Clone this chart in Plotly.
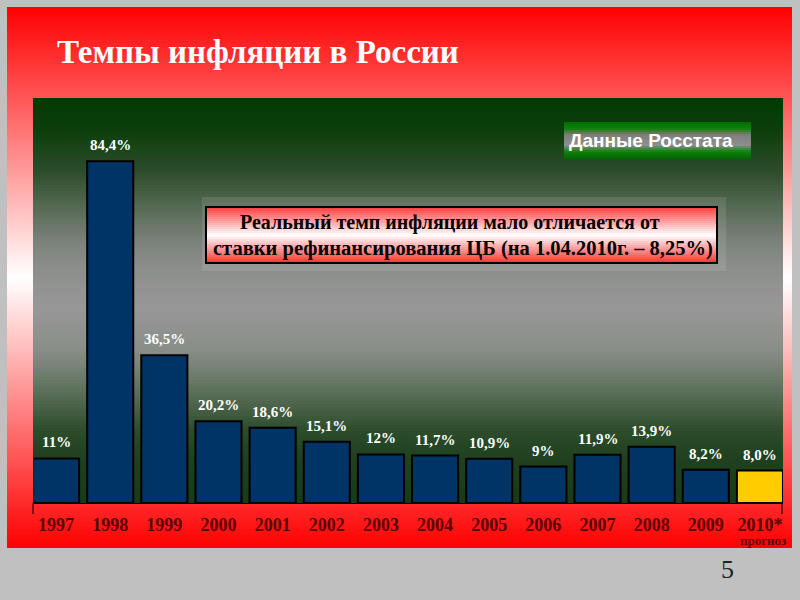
import plotly.graph_objects as go

# ---------------- data ----------------
years = ["1997", "1998", "1999", "2000", "2001", "2002", "2003",
         "2004", "2005", "2006", "2007", "2008", "2009", "2010"]
tick_labels = ["1997", "1998", "1999", "2000", "2001", "2002", "2003",
               "2004", "2005", "2006", "2007", "2008", "2009", "2010*"]
inflation = [11, 84.4, 36.5, 20.2, 18.6, 15.1, 12, 11.7, 10.9, 9, 11.9, 13.9, 8.2, 8.0]
value_labels = ["11%", "84,4%", "36,5%", "20,2%", "18,6%", "15,1%", "12%",
                "11,7%", "10,9%", "9%", "11,9%", "13,9%", "8,2%", "8,0%"]
is_forecast = [False] * 13 + [True]

title_text = "Темпы инфляции в России"
source_text = "Данные Росстата"
note_line1 = "Реальный темп инфляции мало отличается от"
note_line2 = "ставки рефинансирования ЦБ (на 1.04.2010г. – 8,25%)"
forecast_text = "прогноз"
page_number = "5"

# ---------------- helpers ----------------
W, H = 800, 600


def px(x):
    return x / W


def py(y):
    return 1 - y / H


def hex2rgb(h):
    h = h.lstrip("#")
    return tuple(int(h[i:i + 2], 16) for i in (0, 2, 4))


def interp(stops, t):
    for (t0, c0), (t1, c1) in zip(stops[:-1], stops[1:]):
        if t0 <= t <= t1:
            f = 0 if t1 == t0 else (t - t0) / (t1 - t0)
            a, b = hex2rgb(c0), hex2rgb(c1)
            r = [round(a[i] + (b[i] - a[i]) * f) for i in range(3)]
            return "rgb(%d,%d,%d)" % tuple(r)
    return "rgb(%d,%d,%d)" % hex2rgb(stops[-1][1])


def gradient(x0, x1, y0, y1, stops, step=2):
    out = []
    y = y0
    while y < y1:
        yb = min(y + step, y1)
        t = ((y + yb) / 2 - y0) / (y1 - y0)
        out.append(dict(type="rect", xref="paper", yref="paper",
                        x0=px(x0), x1=px(x1), y0=py(min(yb + 0.6, y1)), y1=py(y),
                        fillcolor=interp(stops, t), line=dict(width=0), layer="below"))
        y = yb
    return out


shapes = []
# red slide panel
shapes += gradient(7, 792, 7, 548, [(0, "#ff0000"), (0.5, "#ffffff"), (1, "#ff0000")], 3)
# plot background gradient (dark green -> grey -> dark green)
shapes += gradient(33, 783, 98, 503, [
    (0.00, "#033a03"), (0.08, "#0c3e0c"), (0.18, "#2c4c2a"), (0.27, "#566a54"),
    (0.35, "#7a817a"), (0.42, "#8c8e8c"), (0.52, "#979797"), (0.62, "#8a8e89"),
    (0.69, "#6c7b6a"), (0.77, "#465f44"), (0.82, "#2c4c2c"), (0.89, "#1f411f"),
    (1.00, "#173a17")], 3)
# shadow behind note box
shapes.append(dict(type="rect", xref="paper", yref="paper",
                   x0=px(202), x1=px(726), y0=py(271), y1=py(197),
                   fillcolor="rgba(255,255,255,0.10)", line=dict(width=0), layer="below"))
# note box gradient
shapes += gradient(206, 717, 207, 263, [(0, "#ff3c3c"), (0.5, "#ffffff"), (1, "#ff3030")], 2)
shapes.append(dict(type="rect", xref="paper", yref="paper",
                   x0=px(206), x1=px(717), y0=py(263), y1=py(207),
                   fillcolor="rgba(0,0,0,0)", line=dict(color="black", width=2), layer="below"))
# source box gradient
shapes += gradient(564, 751, 122, 159, [
    (0.00, "#006e00"), (0.18, "#0a820a"), (0.36, "#7f7f7f"), (0.62, "#8e8e8e"),
    (0.80, "#0c820c"), (1.00, "#006600")], 2)
# end ticks of x axis
for xx in (33, 782):
    shapes.append(dict(type="line", xref="paper", yref="paper",
                       x0=px(xx), x1=px(xx), y0=py(503), y1=py(514),
                       line=dict(color="black", width=1)))

bar_colors = ["#ffcc00" if f else "#003366" for f in is_forecast]
idx = list(range(len(years)))

fig = go.Figure()
fig.add_trace(go.Bar(
    x=years, y=inflation,
    marker=dict(color=bar_colors, line=dict(color="black", width=2)),
    hoverinfo="skip",
))

annotations = []
for i, v, lab in zip(idx, inflation, value_labels):
    annotations.append(dict(x=i, y=v, xref="x", yref="y", text="<b>%s</b>" % lab, showarrow=False,
                            yshift=16, yanchor="middle",
                            font=dict(family="Liberation Serif", size=15, color="white")))

annotations += [
    dict(x=px(55), y=py(52), xref="paper", yref="paper", text="<b>%s</b>" % title_text,
         showarrow=False, xanchor="left", yanchor="middle",
         font=dict(family="Liberation Serif", size=33, color="white")),
    dict(x=px(567), y=py(140), xref="paper", yref="paper", text="<b>%s</b>" % source_text,
         showarrow=False, xanchor="left", yanchor="middle",
         font=dict(family="Liberation Sans", size=19, color="white")),
    dict(x=px(450), y=py(222), xref="paper", yref="paper", text="<b>%s</b>" % note_line1,
         showarrow=False, xanchor="center", yanchor="middle",
         font=dict(family="Liberation Serif", size=20, color="black")),
    dict(x=px(463), y=py(248), xref="paper", yref="paper", text="<b>%s</b>" % note_line2,
         showarrow=False, xanchor="center", yanchor="middle",
         font=dict(family="Liberation Serif", size=20.5, color="black")),
    dict(x=idx[-1], y=py(540), xref="x", yref="paper", text="<b>%s</b>" % forecast_text,
         showarrow=False, xanchor="center", yanchor="middle", xshift=3,
         font=dict(family="Liberation Serif", size=13, color="#5a0000")),
    dict(x=px(727), y=py(569), xref="paper", yref="paper", text=page_number,
         showarrow=False, xanchor="center", yanchor="middle",
         font=dict(family="Liberation Serif", size=26, color="#222222")),
]

fig.update_layout(
    width=W, height=H,
    margin=dict(l=0, r=0, t=0, b=0),
    paper_bgcolor="#c0c0c0",
    plot_bgcolor="rgba(0,0,0,0)",
    showlegend=False,
    bargap=0.149,
    shapes=shapes,
    annotations=annotations,
    xaxis=dict(type="category", domain=[px(33), px(783)], range=[-0.426, 13.426],
               tickmode="array", tickvals=years, ticktext=["<b>%s</b>" % t for t in tick_labels],
               showline=True, linecolor="black", linewidth=1,
               ticks="outside", ticklen=5, tickcolor="rgba(0,0,0,0)",
               showgrid=False, zeroline=False, fixedrange=True,
               tickfont=dict(family="Liberation Serif", size=18, color="#5a0000")),
    yaxis=dict(domain=[py(503), py(98)], range=[0, 100], visible=False,
               showgrid=False, zeroline=False, fixedrange=True),
)

fig.write_html("out.html",
               config={"displayModeBar": False, "staticPlot": True},
               post_script="document.body.style.margin='0';"
                           "document.body.style.background='#c0c0c0';"
                           "document.body.style.overflow='hidden';")
